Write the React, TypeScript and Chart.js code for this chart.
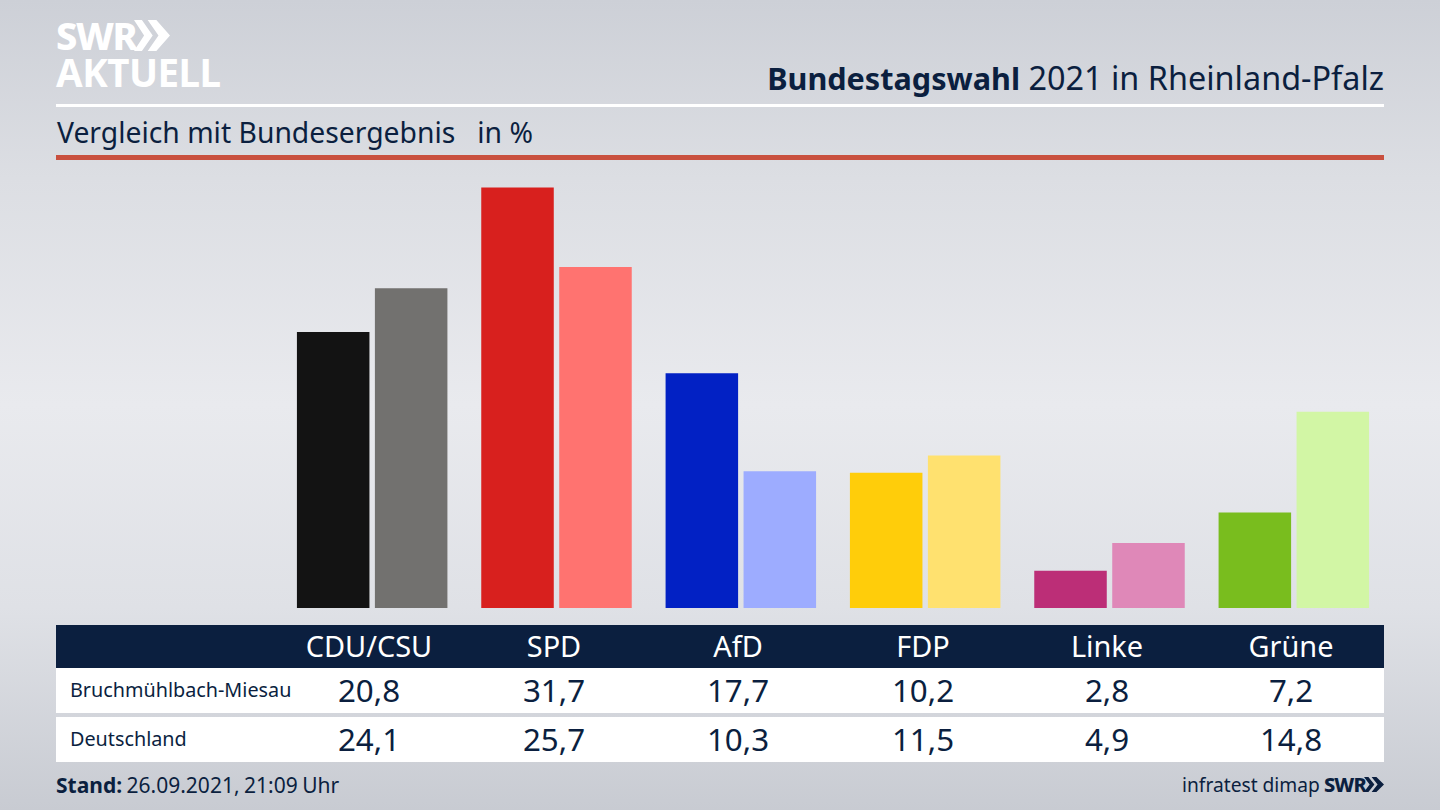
import React, { useEffect, useRef } from "react";
import { Chart, registerables } from "chart.js";

Chart.register(...registerables);

const parties = ["CDU/CSU", "SPD", "AfD", "FDP", "Linke", "Grüne"];
const localValues = [20.8, 31.7, 17.7, 10.2, 2.8, 7.2];
const nationalValues = [24.1, 25.7, 10.3, 11.5, 4.9, 14.8];
const localColors = ["#131313", "#d8201e", "#0221c4", "#ffcd0a", "#bc2e77", "#79bd1e"];
const nationalColors = ["#72716f", "#ff7370", "#9dacff", "#ffe16f", "#df88b8", "#d2f6a5"];
const localName = "Bruchmühlbach-Miesau";
const nationalName = "Deutschland";
const labelCenters = [369, 554, 738, 923, 1107, 1291];

const navy = "#0b1f3f";
const font = '"Noto Sans", sans-serif';

const fmt = (v: number) => v.toFixed(1).replace(".", ",");

const abs = (left: number, top: number, extra: React.CSSProperties = {}): React.CSSProperties => ({
  position: "absolute",
  left,
  top,
  whiteSpace: "nowrap",
  ...extra,
});

const Row = ({ top, height, name, values }: { top: number; height: number; name: string; values: number[] }) => (
  <>
    <div style={abs(56, top, { width: 1328, height, background: "#fff" })} />
    <div style={abs(70, top - 1, { height, lineHeight: height + "px", fontSize: 19.8, color: navy })}>{name}</div>
    {values.map((v, i) => (
      <div
        key={i}
        style={abs(labelCenters[i] - 80, top, {
          width: 160,
          height,
          lineHeight: height + "px",
          textAlign: "center",
          fontSize: 31.3,
          color: navy,
        })}
      >
        {fmt(v)}
      </div>
    ))}
  </>
);

const Chevrons = ({ left, top, w, h, color }: { left: number; top: number; w: number; h: number; color: string }) => (
  <svg style={abs(left, top)} width={w} height={h} viewBox="0 0 50 40" preserveAspectRatio="none">
    <polygon points="0,0 11,0 26,20 11,40 0,40 14,20" fill={color} />
    <polygon points="19,0 31,0 50,20 31,40 19,40 34,20" fill={color} />
  </svg>
);

export default function App() {
  const chartRef = useRef<HTMLCanvasElement | null>(null);

  useEffect(() => {
    document.body.style.margin = "0";
    const ctx = chartRef.current?.getContext("2d");
    if (!ctx) return;
    const chart = new Chart(ctx, {
      type: "bar",
      data: {
        labels: parties,
        datasets: [
          { label: localName, data: localValues, backgroundColor: localColors },
          { label: nationalName, data: nationalValues, backgroundColor: nationalColors },
        ],
      },
      options: {
        responsive: false,
        animation: false,
        datasets: { bar: { categoryPercentage: 0.846, barPercentage: 0.93 } },
        plugins: { legend: { display: false }, tooltip: { enabled: false } },
        layout: { padding: 0 },
        scales: {
          x: { display: false },
          y: { display: false, min: 0, max: 33.77 },
        },
      },
    });
    return () => chart.destroy();
  }, []);

  return (
    <div
      style={{
        position: "relative",
        width: 1440,
        height: 810,
        overflow: "hidden",
        fontFamily: font,
        background: "linear-gradient(180deg, #cdd0d7 0%, #dcdee3 22%, #e9eaee 50%, #dfe1e6 75%, #c8cbd2 100%)",
      }}
    >
      <div style={abs(56, 13, { fontSize: 38, lineHeight: "44px", fontWeight: 800, color: "#fff", letterSpacing: -1.5 })}>SWR</div>
      <Chevrons left={134} top={20} w={36} h={31} color="#fff" />
      <div style={abs(56, 50, { fontSize: 38.5, lineHeight: "44px", fontWeight: 700, color: "#fff", letterSpacing: -0.5 })}>AKTUELL</div>

      <div style={abs(0, 57, { width: 1384, textAlign: "right", fontSize: 32.4, lineHeight: "40px", color: navy })}>
        <b style={{ fontSize: 30.6 }}>Bundestagswahl</b> 2021 in Rheinland-Pfalz
      </div>
      <div style={abs(56, 104, { width: 1328, height: 3, background: "#fff" })} />
      <div style={abs(57, 112, { fontSize: 28.3, lineHeight: "40px", color: navy, whiteSpace: "pre" })}>
        {"Vergleich mit Bundesergebnis   in %"}
      </div>
      <div style={abs(56, 155, { width: 1328, height: 5, background: "#c9503f" })} />

      <canvas ref={chartRef} width={1106} height={448} style={abs(280.4, 160, { display: "block" })} />

      <div style={abs(56, 625, { width: 1328, height: 43, background: navy })} />
      {parties.map((p, i) => (
        <div
          key={p}
          style={abs(labelCenters[i] - 80, 624, {
            width: 160,
            height: 43,
            lineHeight: "43px",
            textAlign: "center",
            fontSize: 28.9,
            color: "#fff",
          })}
        >
          {p}
        </div>
      ))}
      <Row top={668} height={45} name={localName} values={localValues} />
      <Row top={717} height={45} name={nationalName} values={nationalValues} />

      <div style={abs(56, 770, { fontSize: 21, lineHeight: "30px", color: navy, wordSpacing: -1 })}>
        <b>Stand:</b> 26.09.2021, 21:09 Uhr
      </div>
      <div style={abs(1182, 770, { fontSize: 19.2, lineHeight: "30px", color: navy })}>infratest dimap</div>
      <div style={abs(1324, 771, { fontSize: 20, lineHeight: "28px", fontWeight: 800, color: navy, letterSpacing: -0.9 })}>SWR</div>
      <Chevrons left={1364} top={777} w={20} h={15} color={navy} />
    </div>
  );
}
